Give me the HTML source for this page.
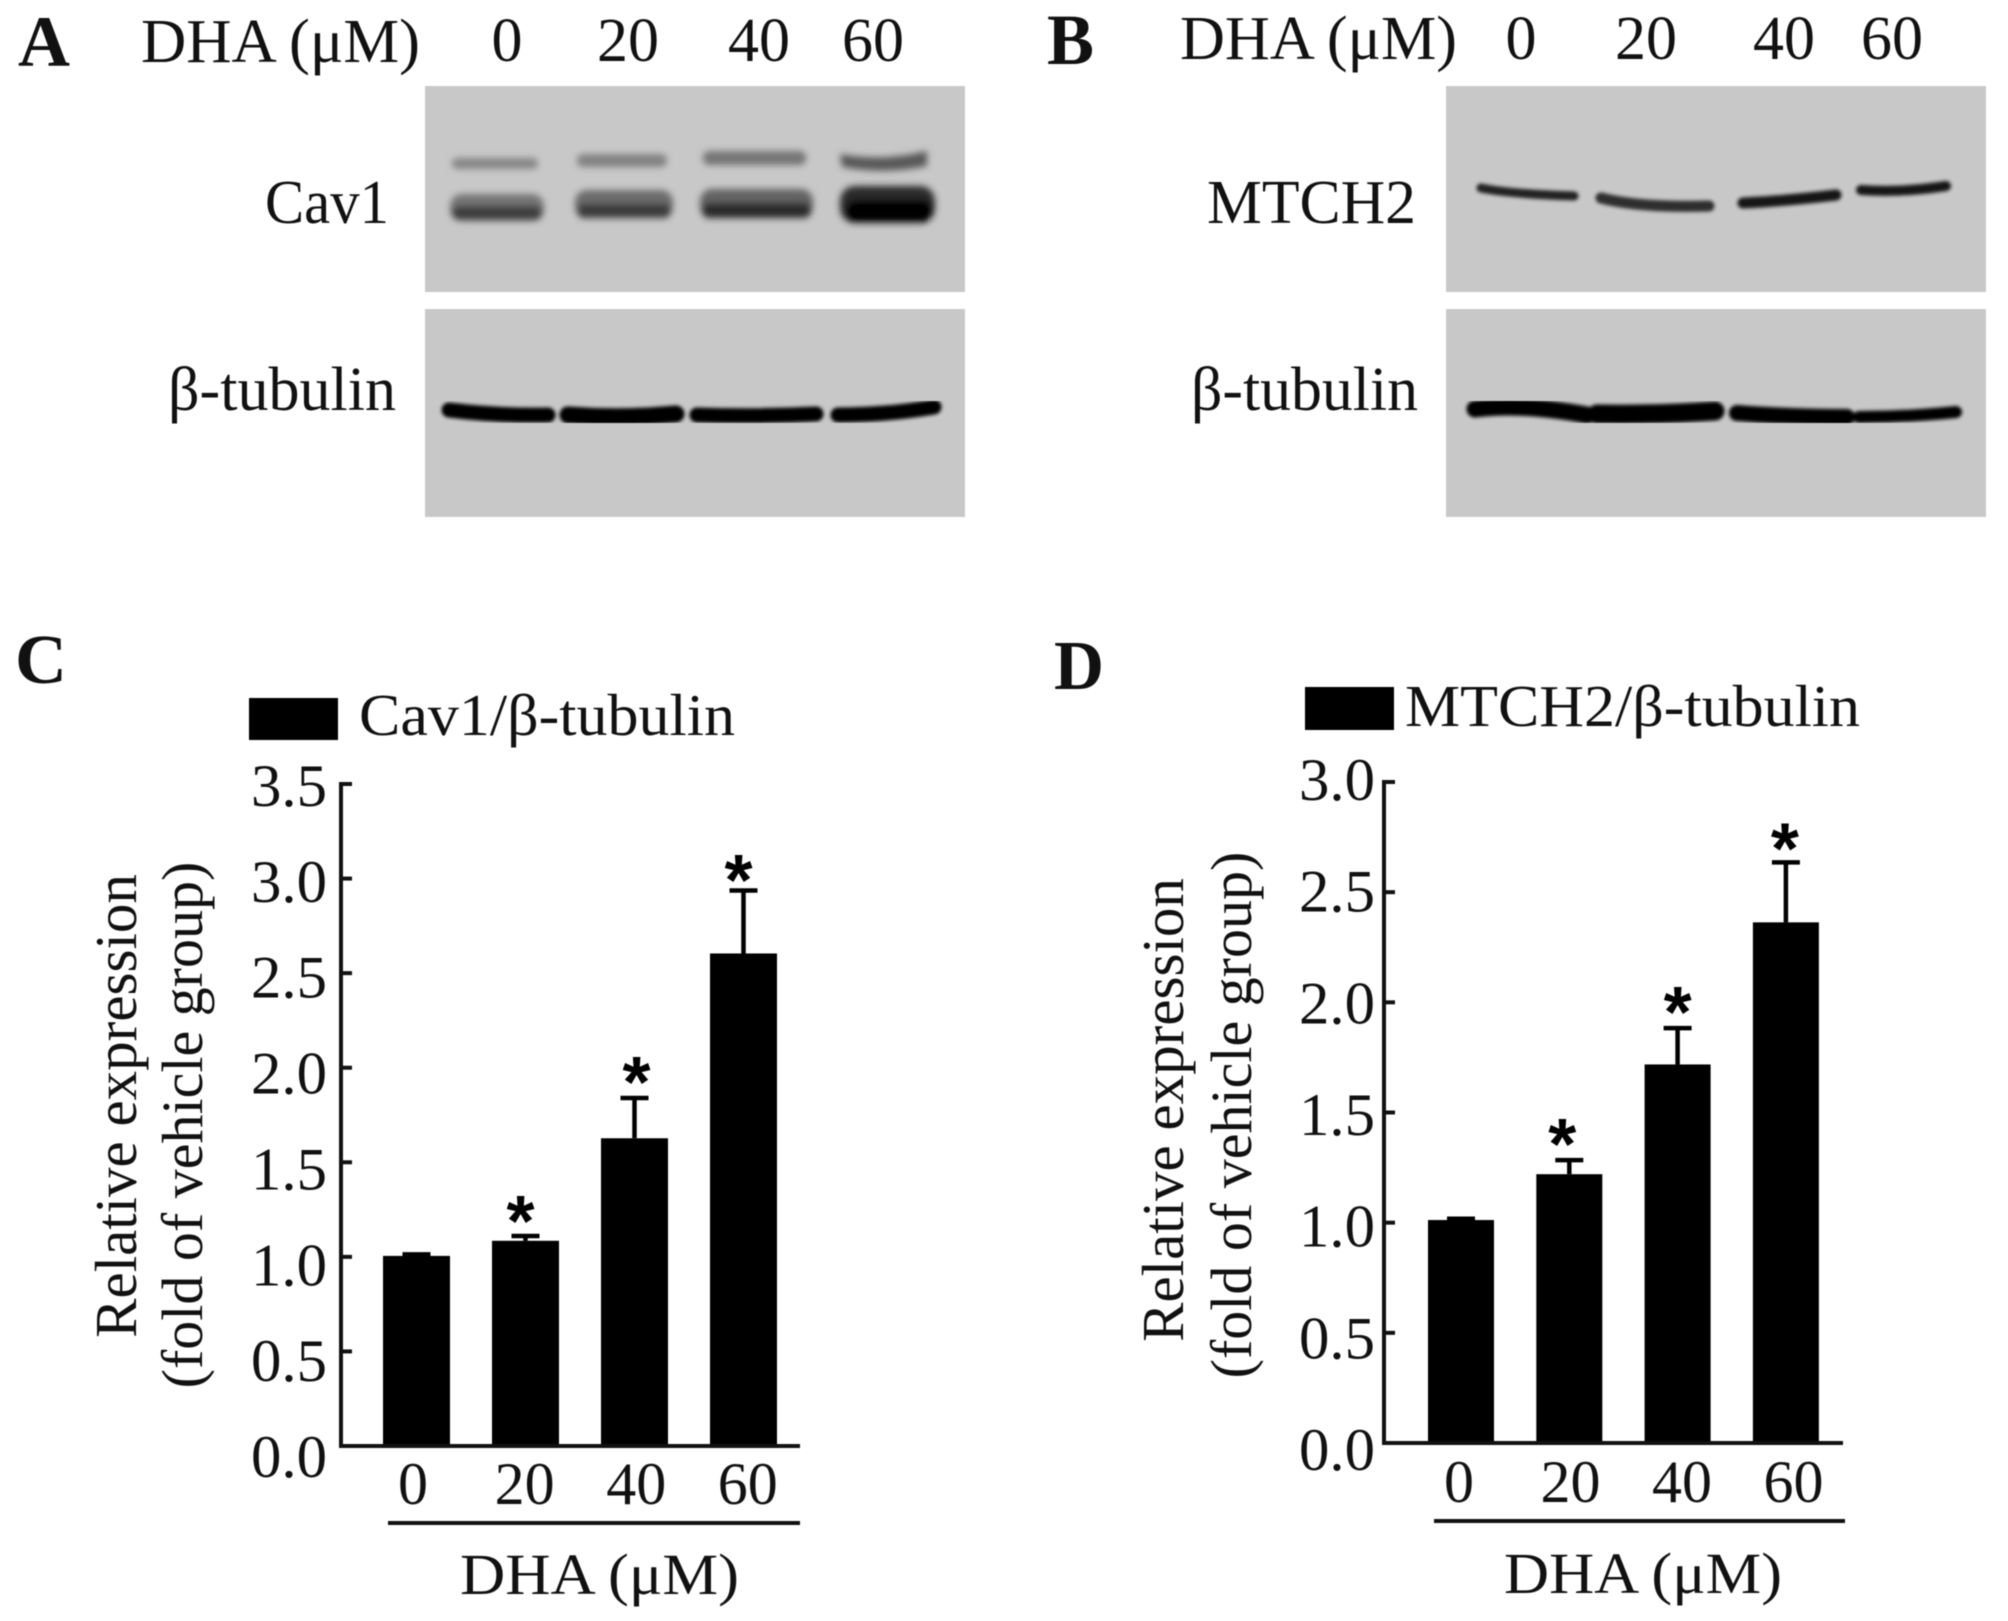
<!DOCTYPE html>
<html lang="en">
<head>
<meta charset="utf-8">
<title>DHA Cav1 and MTCH2 expression</title>
<style>
html,body{margin:0;padding:0;background:#fff;}
svg{display:block;filter:blur(0.6px);}
text{font-family:"Liberation Serif","DejaVu Serif",serif;fill:#111;}
</style>
</head>
<body>
<svg id="figure" xmlns="http://www.w3.org/2000/svg" width="2008" height="1621" viewBox="0 0 2008 1621">
<defs>
<filter id="b2" x="-20%" y="-60%" width="140%" height="220%"><feGaussianBlur stdDeviation="1.8"/></filter>
<filter id="b4" x="-20%" y="-60%" width="140%" height="220%"><feGaussianBlur stdDeviation="3.5"/></filter>
</defs>
<rect width="2008" height="1621" fill="#fff"/>

<!-- Panel A -->
<g>
<text x="18" y="66" font-size="72" font-weight="bold" textLength="52" lengthAdjust="spacingAndGlyphs">A</text>
<text x="141" y="62" font-size="62" textLength="279" lengthAdjust="spacingAndGlyphs">DHA (μM)</text>
<text x="507" y="61" font-size="62" text-anchor="middle">0</text>
<text x="628" y="61" font-size="62" text-anchor="middle">20</text>
<text x="759" y="61" font-size="62" text-anchor="middle">40</text>
<text x="873" y="61" font-size="62" text-anchor="middle">60</text>
<text x="265" y="223" font-size="62" textLength="124" lengthAdjust="spacingAndGlyphs">Cav1</text>
<text x="168" y="410" font-size="62" textLength="228" lengthAdjust="spacingAndGlyphs">β-tubulin</text>
<rect x="425" y="86" width="540" height="206" fill="#c8c8c8"/>
<rect x="425" y="309" width="540" height="208" fill="#c8c8c8"/>
<g filter="url(#b4)">
<rect x="452" y="158" width="86" height="11" rx="5" fill="#868686"/>
<rect x="577" y="154" width="90" height="13" rx="6" fill="#828282"/>
<rect x="703" y="151" width="103" height="14" rx="6" fill="#747474"/>
<path d="M840 154 Q882 162 927 151 L927 166 Q885 175 842 167 Z" fill="#585858"/>
<rect x="450" y="194" width="94" height="27" rx="12" fill="#747474"/>
<rect x="452" y="206" width="90" height="14" rx="7" fill="#3c3c3c"/>
<rect x="575" y="190" width="98" height="28" rx="12" fill="#6c6c6c"/>
<rect x="577" y="204" width="94" height="14" rx="7" fill="#3a3a3a"/>
<rect x="700" y="189" width="113" height="29" rx="12" fill="#646464"/>
<rect x="702" y="203" width="109" height="15" rx="7" fill="#2c2c2c"/>
<rect x="840" y="186" width="95" height="37" rx="15" fill="#2c2c2c"/>
<rect x="846" y="200" width="86" height="22" rx="10" fill="#000"/>
</g>
<g filter="url(#b2)" fill="none" stroke="#040404" stroke-linecap="round">
<path d="M449 410 Q498 416 548 415" stroke-width="15"/>
<path d="M568 415 Q622 419 676 414" stroke-width="17"/>
<path d="M697 415 Q757 417 816 414" stroke-width="15"/>
<path d="M838 415 Q887 415 934 407" stroke-width="15"/>
</g>
</g>

<!-- Panel B -->
<g>
<text x="1047" y="64" font-size="72" font-weight="bold" textLength="47" lengthAdjust="spacingAndGlyphs">B</text>
<text x="1180" y="59" font-size="62" textLength="277" lengthAdjust="spacingAndGlyphs">DHA (μM)</text>
<text x="1521" y="59" font-size="62" text-anchor="middle">0</text>
<text x="1646" y="59" font-size="62" text-anchor="middle">20</text>
<text x="1784" y="59" font-size="62" text-anchor="middle">40</text>
<text x="1892" y="59" font-size="62" text-anchor="middle">60</text>
<text x="1207" y="223" font-size="62" textLength="209" lengthAdjust="spacingAndGlyphs">MTCH2</text>
<text x="1191" y="410" font-size="62" textLength="227" lengthAdjust="spacingAndGlyphs">β-tubulin</text>
<rect x="1446" y="86" width="540" height="206" fill="#c8c8c8"/>
<rect x="1446" y="309" width="540" height="208" fill="#c8c8c8"/>
<g filter="url(#b2)" fill="none" stroke-linecap="round">
<path d="M1481 188 Q1510 194 1574 196" stroke="#222" stroke-width="9"/>
<path d="M1601 198 Q1640 208 1709 206" stroke="#2e2e2e" stroke-width="11"/>
<path d="M1743 203 Q1785 201 1836 195" stroke="#181818" stroke-width="11"/>
<path d="M1861 190 Q1900 193 1946 186" stroke="#141414" stroke-width="10"/>
</g>
<g filter="url(#b2)" fill="none" stroke="#040404" stroke-linecap="round">
<path d="M1475 409 Q1522 403 1587 415" stroke-width="17"/>
<path d="M1597 414 Q1657 415 1715 411" stroke-width="19"/>
<path d="M1737 413 Q1787 417 1847 417" stroke-width="16"/>
<path d="M1859 417 Q1907 417 1956 412" stroke-width="12"/>
</g>
</g>

<!-- Panels C and D static labels -->
<g>
<text x="15" y="683" font-size="70" font-weight="bold" textLength="52" lengthAdjust="spacingAndGlyphs">C</text>
<rect x="249" y="698" width="89" height="42" fill="#000"/>
<text x="359" y="735" font-size="59" textLength="376" lengthAdjust="spacingAndGlyphs">Cav1/β-tubulin</text>
<text font-size="59" text-anchor="middle" transform="translate(136 1106) rotate(-90)">Relative expression</text>
<text font-size="58" text-anchor="middle" transform="translate(202 1125) rotate(-90)">(fold of vehicle group)</text>
<rect x="388" y="1521" width="412" height="4" fill="#111"/>
<text x="460" y="1594" font-size="58" textLength="279" lengthAdjust="spacingAndGlyphs">DHA (μM)</text>
</g>
<g>
<text x="1054" y="689" font-size="70" font-weight="bold" textLength="50" lengthAdjust="spacingAndGlyphs">D</text>
<rect x="1305" y="687" width="89" height="43" fill="#000"/>
<text x="1405" y="726" font-size="59" textLength="455" lengthAdjust="spacingAndGlyphs">MTCH2/β-tubulin</text>
<text font-size="59" text-anchor="middle" transform="translate(1183 1110) rotate(-90)">Relative expression</text>
<text font-size="58" text-anchor="middle" transform="translate(1251 1115) rotate(-90)">(fold of vehicle group)</text>
<rect x="1434" y="1519" width="411" height="4" fill="#111"/>
<text x="1504" y="1593" font-size="58" textLength="278" lengthAdjust="spacingAndGlyphs">DHA (μM)</text>
</g>
<g id="chart-c"></g>
<g id="chart-d"></g>
</svg>
<script>
var categories = ['0', '20', '40', '60'];
var cav1Values = [1.005, 1.085, 1.627, 2.604];
var cav1ErrorTops = [1.013, 1.11, 1.84, 2.937];
var cav1Significant = [false, true, true, true];
var cav1Ticks = ['0.0', '0.5', '1.0', '1.5', '2.0', '2.5', '3.0', '3.5'];
var mtch2Values = [1.012, 1.22, 1.718, 2.363];
var mtch2ErrorTops = [1.018, 1.284, 1.883, 2.635];
var mtch2Significant = [false, true, true, true];
var mtch2Ticks = ['0.0', '0.5', '1.0', '1.5', '2.0', '2.5', '3.0'];

var SVGNS = 'http://www.w3.org/2000/svg';
function make(tag, parent, props) {
  var node = document.createElementNS(SVGNS, tag);
  Object.keys(props).forEach(function (k) { node.setAttribute(k, props[k]); });
  parent.appendChild(node);
  return node;
}

function drawChart(cfg) {
  var root = document.getElementById(cfg.id);
  var yMax = parseFloat(cfg.ticks[cfg.ticks.length - 1]);
  function y(v) { return cfg.base - (v / yMax) * (cfg.base - cfg.top); }
  function barX(i) { return cfg.barLeft + i * cfg.barStep; }
  function labelY(v) { return cfg.labelBase0 - (v / yMax) * (cfg.labelBase0 - cfg.labelBaseTop); }

  cfg.values.forEach(function (v, i) {
    var cx = barX(i) + cfg.barWidth / 2;
    var top = y(cfg.errors[i]);
    var stem = make('line', root, {x1: cx, x2: cx, y1: top, y2: y(v), stroke: '#000', 'stroke-width': 4.5});
    
    
    var cap = make('line', root, {x1: cx - cfg.capWidth / 2, x2: cx + cfg.capWidth / 2, y1: top, y2: top, stroke: '#000', 'stroke-width': 4.5});
    
    
    var bar = make('rect', root, {x: barX(i), y: y(v), width: cfg.barWidth, height: cfg.base - y(v), fill: '#000'});
    
    
    if (cfg.significant[i]) {
      var star = make('text', root, {x: cx + cfg.starShift[i], y: top + cfg.starDrop[i], 'text-anchor': 'middle', 'font-size': 72, 'font-weight': 'bold'});
      
      
      star.style.fontFamily = '"Liberation Sans", sans-serif';
      star.style.fill = '#000';
      star.textContent = '*';
    }
    var xl = make('text', root, {x: cfg.xLabelLeft + i * cfg.xLabelStep, y: cfg.xLabelBase, 'text-anchor': 'middle', 'font-size': 60});
    
    
    xl.textContent = categories[i];
  });

  cfg.ticks.forEach(function (t) {
    var v = parseFloat(t);
    var tick = make('line', root, {x1: cfg.axisX, x2: cfg.axisX + 11, y1: y(v), y2: y(v), stroke: '#111', 'stroke-width': 4});
    
    
    var lab = make('text', root, {x: cfg.labelRight, y: labelY(v), 'text-anchor': 'end', 'font-size': 60, textLength: 76, lengthAdjust: 'spacingAndGlyphs'});
    
    
    lab.textContent = t;
  });

  var yAxis = make('line', root, {x1: cfg.axisX, x2: cfg.axisX, y1: cfg.top - 2, y2: cfg.base + 2, stroke: '#111', 'stroke-width': 4});
  
  
  var xAxis = make('line', root, {x1: cfg.axisX, x2: cfg.axisEnd, y1: cfg.base, y2: cfg.base, stroke: '#111', 'stroke-width': 4});
  
  
}

drawChart({id: 'chart-c', values: cav1Values, errors: cav1ErrorTops, significant: cav1Significant, ticks: cav1Ticks,
  top: 784, base: 1446, axisX: 341, axisEnd: 800, barLeft: 383, barStep: 109, barWidth: 67, capWidth: 28,
  starShift: [0, -5, 2, -5], starDrop: [0, 10, 9, 14.5],
  labelRight: 327, labelBase0: 1477, labelBaseTop: 806, xLabelLeft: 413, xLabelStep: 111.6, xLabelBase: 1504});
drawChart({id: 'chart-d', values: mtch2Values, errors: mtch2ErrorTops, significant: mtch2Significant, ticks: mtch2Ticks,
  top: 782, base: 1443, axisX: 1384, axisEnd: 1843, barLeft: 1428, barStep: 108.3, barWidth: 66, capWidth: 28,
  starShift: [0, -7, 0, -1], starDrop: [0, 9, 9, 11],
  labelRight: 1375, labelBase0: 1470, labelBaseTop: 800, xLabelLeft: 1459, xLabelStep: 111.5, xLabelBase: 1502});
</script>
</body>
</html>
